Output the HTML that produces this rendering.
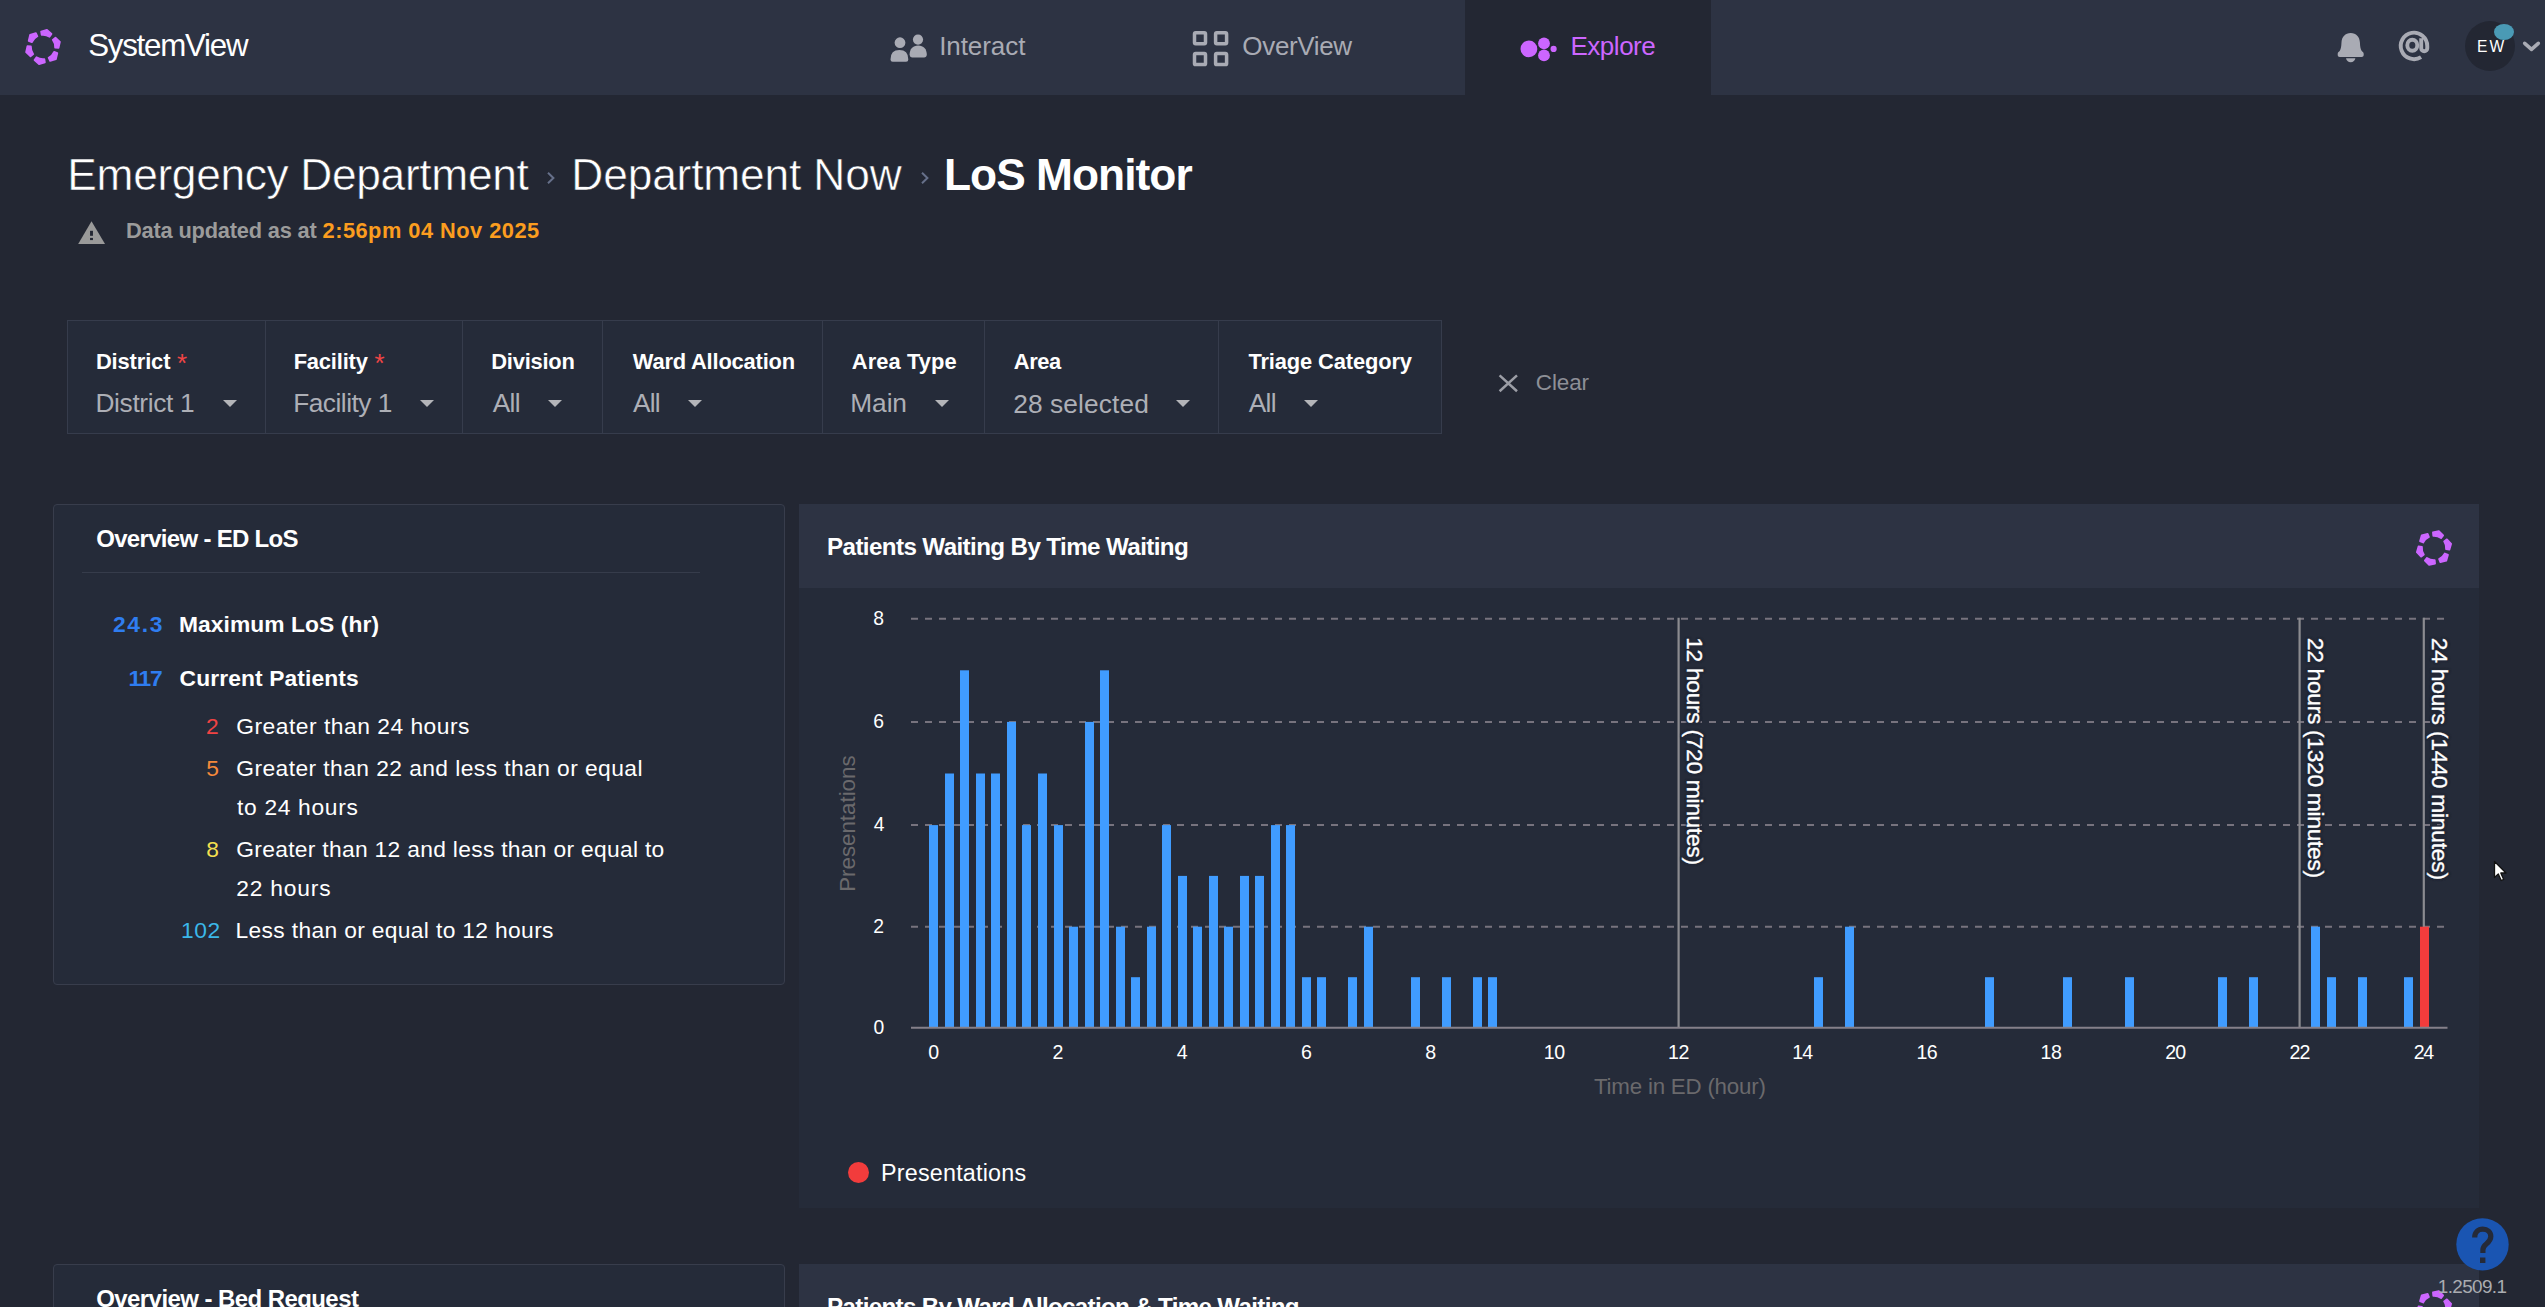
<!DOCTYPE html>
<html lang="en"><head><meta charset="utf-8"><title>SystemView - LoS Monitor</title>
<style>
html,body{margin:0;padding:0;background:#232733;}
body{width:2545px;height:1307px;overflow:hidden;position:relative;background:#232733;font-family:"Liberation Sans",sans-serif;}
.t{position:absolute;white-space:nowrap;font-family:"Liberation Sans",sans-serif;}
</style></head><body>
<header>
<div style="position:absolute;left:0px;top:0px;width:2545px;height:95px;background:#2d3343;"></div>
<div style="position:absolute;left:1465px;top:0px;width:246px;height:95px;background:#232733;"></div>
<svg style="position:absolute;left:22.5px;top:27.4px;overflow:visible" width="40" height="40" viewBox="-20 -20 40 40"><g fill="#cc66ff" stroke="#cc66ff" stroke-width="1.70" stroke-linejoin="round"><path d="M-1.90 -15.48L3.98 -17.25L8.50 -13.08L6.50 -10.21A12.10 12.10 0 0 0 -1.37 -12.02Z"/><path d="M12.46 -9.39L16.93 -5.17L15.58 0.82L12.09 0.53A12.10 12.10 0 0 0 9.73 -7.20Z"/><path d="M14.36 6.10L12.94 12.07L7.08 13.90L5.59 10.73A12.10 12.10 0 0 0 11.10 4.82Z"/><path d="M1.90 15.48L-3.98 17.25L-8.50 13.08L-6.50 10.21A12.10 12.10 0 0 0 1.37 12.02Z"/><path d="M-12.46 9.39L-16.93 5.17L-15.58 -0.82L-12.09 -0.53A12.10 12.10 0 0 0 -9.73 7.20Z"/><path d="M-14.36 -6.10L-12.94 -12.07L-7.08 -13.90L-5.59 -10.73A12.10 12.10 0 0 0 -11.10 -4.82Z"/></g></svg>
<div class="t " style="left:88.18px;top:30px;font-size:31.3px;line-height:31.3px;letter-spacing:-1.254px;color:#fff;">SystemView</div>
<svg style="position:absolute;left:888px;top:32px" width="42" height="34" viewBox="888 32 42 34"><g fill="#a9abb4">
<circle cx="918" cy="39.6" r="5.1"/><path d="M909.6 54.6c0-5.600 3.200-9.200 8.600-9.200s8.600 3.600 8.600 9.200c0 1.800-1.100 2.900-2.800 2.900h-11.600c-1.700 0-2.800-1.100-2.800-2.900z"/>
<circle cx="900" cy="42.700" r="6.200" stroke="#2d3343" stroke-width="1.600"/><path d="M889.700 59.400c0-6.100 3.700-10.100 9.700-10.100s9.700 4 9.700 10.100c0 2-1.200 3.200-3 3.200h-13.400c-1.800 0-3-1.200-3-3.200z" stroke="#2d3343" stroke-width="1.600"/>
</g></svg>
<div class="t " style="left:939.20px;top:33px;font-size:26px;line-height:26px;letter-spacing:-0.074px;color:#a9abb4;">Interact</div>
<svg style="position:absolute;left:1190px;top:28px" width="42" height="42" viewBox="1190 28 42 42"><g fill="none" stroke="#a9abb4" stroke-width="3.5"><rect x="1194.5" y="32.8" width="11" height="11" rx="1.2"/><rect x="1215.6" y="32.8" width="11" height="11" rx="1.2"/><rect x="1194.5" y="53.6" width="11" height="11" rx="1.2"/><rect x="1215.6" y="53.6" width="11" height="11" rx="1.2"/></g></svg>
<div class="t " style="left:1242.37px;top:33px;font-size:26px;line-height:26px;letter-spacing:-0.351px;color:#a9abb4;">OverView</div>
<svg style="position:absolute;left:1518px;top:34px" width="42" height="30" viewBox="1518 34 42 30"><g fill="#cc66ff">
<circle cx="1528.9" cy="48.9" r="8.4"/><circle cx="1544" cy="43.4" r="5.9"/><circle cx="1544" cy="55.4" r="5.9"/><circle cx="1553.6" cy="48.9" r="3.1"/></g></svg>
<div class="t " style="left:1570.47px;top:33px;font-size:26px;line-height:26px;letter-spacing:-0.478px;color:#cc66ff;">Explore</div>
<svg style="position:absolute;left:2334px;top:30px" width="34" height="36" viewBox="2334 30 34 36"><g fill="#a9abb4">
<path d="M2350.700 32.900c-5.500 0-8.900 3.900-9.200 9.400-.200 4.300-.600 6.900-1.700 8.500-.700 1-2.100 1.500-2.100 2.900v1.300c0 1.100.900 2 2 2h22c1.100 0 2-.900 2-2v-1.300c0-1.400-1.400-1.900-2.100-2.900-1.100-1.600-1.500-4.200-1.700-8.500-.300-5.500-3.700-9.400-9.200-9.400z"/>
<path d="M2346 58.300h9.400c-.3 2.300-2.200 4-4.700 4s-4.400-1.700-4.700-4z"/></g></svg>
<svg style="position:absolute;left:2396px;top:28px" width="36" height="36" viewBox="2396 28 36 36"><g fill="none" stroke="#a9abb4" stroke-width="3.900">
<path d="M2421.050 57.100A13.250 13.250 0 1 1 2427.250 45.900V48.200a3.020 3.020 0 0 1-6.040 0V38.300"/><ellipse cx="2412.300" cy="45.300" rx="5.000" ry="5.500"/></g></svg>
<div style="position:absolute;left:2465.3px;top:21.3px;width:50px;height:50px;background:#232733;border-radius:50%;"></div>
<div style="position:absolute;left:2493.7px;top:23.7px;width:20.4px;height:16.4px;background:#4a9ab5;border-radius:50%;"></div>
<div class="t " style="left:2477.02px;top:39px;font-size:15.6px;line-height:15.6px;letter-spacing:2.204px;color:#fff;">EW</div>
<svg style="position:absolute;left:2520px;top:38px" width="24" height="16" viewBox="2520 38 24 16"><path d="M2524.7 43.300l6.800 6 6.800-6" fill="none" stroke="#a9abb4" stroke-width="3.6" stroke-linecap="round" stroke-linejoin="round"/></svg>
</header>
<main>
<section class="page-title">
<div class="t " style="left:67.37px;top:153px;font-size:44.3px;line-height:44.3px;letter-spacing:-0.334px;color:#fff;-webkit-text-stroke:0.55px #232733;">Emergency Department</div>
<div class="t " style="left:571.37px;top:153px;font-size:44.3px;line-height:44.3px;letter-spacing:-0.158px;color:#fff;-webkit-text-stroke:0.55px #232733;">Department Now</div>
<div class="t " style="left:943.94px;top:153px;font-size:44.3px;line-height:44.3px;letter-spacing:-0.963px;color:#fff;font-weight:700;">LoS Monitor</div>
<svg style="position:absolute;left:545px;top:170px" width="12" height="16" viewBox="0 0 12 16"><path d="M3 2.800l5.400 5.200-5.400 5.200" fill="none" stroke="#66708a" stroke-width="2"/></svg>
<svg style="position:absolute;left:918.5px;top:170px" width="12" height="16" viewBox="0 0 12 16"><path d="M3 2.800l5.400 5.200-5.400 5.200" fill="none" stroke="#66708a" stroke-width="2"/></svg>
<svg style="position:absolute;left:76px;top:219px" width="32" height="28" viewBox="76 219 32 28"><path d="M91.500 221.300L105 243.900H78.200z" fill="#9a9a9a"/><rect x="90.050" y="230.800" width="2.900" height="5" fill="#232733"/><rect x="90.050" y="237.900" width="2.900" height="2.200" fill="#232733"/></svg>
<div class="t " style="left:126.04px;top:220px;font-size:21.8px;line-height:21.8px;letter-spacing:-0.182px;color:#9b9b9b;font-weight:700;">Data updated as at</div>
<div class="t " style="left:322.54px;top:220px;font-size:21.8px;line-height:21.8px;letter-spacing:0.484px;color:#fb9d1f;font-weight:700;">2:56pm 04 Nov 2025</div>
</section>
<section class="filters">
<div style="position:absolute;left:67px;top:320px;width:1375px;height:113.5px;background:#252b39;border:1px solid #363c4c;box-sizing:border-box;"></div>
<div style="position:absolute;left:265px;top:320px;width:1px;height:113.5px;background:#363c4c;"></div>
<div style="position:absolute;left:462px;top:320px;width:1px;height:113.5px;background:#363c4c;"></div>
<div style="position:absolute;left:602px;top:320px;width:1px;height:113.5px;background:#363c4c;"></div>
<div style="position:absolute;left:822px;top:320px;width:1px;height:113.5px;background:#363c4c;"></div>
<div style="position:absolute;left:984px;top:320px;width:1px;height:113.5px;background:#363c4c;"></div>
<div style="position:absolute;left:1218px;top:320px;width:1px;height:113.5px;background:#363c4c;"></div>
<div class="t " style="left:95.94px;top:351px;font-size:21.9px;line-height:21.9px;letter-spacing:-0.131px;color:#fff;font-weight:700;">District</div>
<div class="t " style="left:177.08px;top:350px;font-size:26px;line-height:26px;letter-spacing:0.000px;color:#f04545;">*</div>
<div class="t " style="left:95.44px;top:390px;font-size:26.3px;line-height:26.3px;letter-spacing:-0.338px;color:#adafb6;">District 1</div>
<svg style="position:absolute;left:223px;top:400px" width="14" height="7" viewBox="0 0 14 7"><path d="M0 0h14l-7 7z" fill="#b4b5b9"/></svg>
<div class="t " style="left:293.64px;top:351px;font-size:21.9px;line-height:21.9px;letter-spacing:-0.169px;color:#fff;font-weight:700;">Facility</div>
<div class="t " style="left:374.48px;top:350px;font-size:26px;line-height:26px;letter-spacing:0.000px;color:#f04545;">*</div>
<div class="t " style="left:293.14px;top:390px;font-size:26.3px;line-height:26.3px;letter-spacing:-0.502px;color:#adafb6;">Facility 1</div>
<svg style="position:absolute;left:420.1px;top:400px" width="14" height="7" viewBox="0 0 14 7"><path d="M0 0h14l-7 7z" fill="#b4b5b9"/></svg>
<div class="t " style="left:491.24px;top:351px;font-size:21.9px;line-height:21.9px;letter-spacing:-0.223px;color:#fff;font-weight:700;">Division</div>
<div class="t " style="left:492.85px;top:390px;font-size:26.3px;line-height:26.3px;letter-spacing:-0.759px;color:#adafb6;">All</div>
<svg style="position:absolute;left:548.1px;top:400px" width="14" height="7" viewBox="0 0 14 7"><path d="M0 0h14l-7 7z" fill="#b4b5b9"/></svg>
<div class="t " style="left:632.78px;top:351px;font-size:21.9px;line-height:21.9px;letter-spacing:-0.192px;color:#fff;font-weight:700;">Ward Allocation</div>
<div class="t " style="left:632.95px;top:390px;font-size:26.3px;line-height:26.3px;letter-spacing:-0.759px;color:#adafb6;">All</div>
<svg style="position:absolute;left:687.8px;top:400px" width="14" height="7" viewBox="0 0 14 7"><path d="M0 0h14l-7 7z" fill="#b4b5b9"/></svg>
<div class="t " style="left:851.75px;top:351px;font-size:21.9px;line-height:21.9px;letter-spacing:0.078px;color:#fff;font-weight:700;">Area Type</div>
<div class="t " style="left:850.34px;top:390px;font-size:26.3px;line-height:26.3px;letter-spacing:-0.113px;color:#adafb6;">Main</div>
<svg style="position:absolute;left:934.8px;top:400px" width="14" height="7" viewBox="0 0 14 7"><path d="M0 0h14l-7 7z" fill="#b4b5b9"/></svg>
<div class="t " style="left:1013.75px;top:351px;font-size:21.9px;line-height:21.9px;letter-spacing:-0.430px;color:#fff;font-weight:700;">Area</div>
<div class="t " style="left:1013.18px;top:391px;font-size:26.3px;line-height:26.3px;letter-spacing:0.110px;color:#adafb6;">28 selected</div>
<svg style="position:absolute;left:1176.2px;top:400px" width="14" height="7" viewBox="0 0 14 7"><path d="M0 0h14l-7 7z" fill="#b4b5b9"/></svg>
<div class="t " style="left:1248.45px;top:351px;font-size:21.9px;line-height:21.9px;letter-spacing:-0.133px;color:#fff;font-weight:700;">Triage Category</div>
<div class="t " style="left:1248.85px;top:390px;font-size:26.3px;line-height:26.3px;letter-spacing:-0.759px;color:#adafb6;">All</div>
<svg style="position:absolute;left:1303.6px;top:400px" width="14" height="7" viewBox="0 0 14 7"><path d="M0 0h14l-7 7z" fill="#b4b5b9"/></svg>
<svg style="position:absolute;left:1496px;top:372px" width="24" height="22" viewBox="1496 372 24 22"><path d="M1499.600 375.400l17.400 15.800M1517 375.400l-17.400 15.800" fill="none" stroke="#9c9ea6" stroke-width="2.500"/></svg>
<div class="t " style="left:1535.86px;top:372px;font-size:22.5px;line-height:22.5px;letter-spacing:-0.163px;color:#8d8f97;">Clear</div>
</section>
<section class="card overview-los">
<div style="position:absolute;left:53px;top:504px;width:732px;height:481px;background:#252b39;border:1px solid #383d4c;border-radius:4px;box-sizing:border-box;"></div>
<div class="t " style="left:96.22px;top:527px;font-size:24px;line-height:24px;letter-spacing:-0.692px;color:#fff;font-weight:700;">Overview - ED LoS</div>
<div style="position:absolute;left:82px;top:572px;width:618px;height:1px;background:#363c4b;"></div>
<div class="t " style="left:112.91px;top:613px;font-size:22.8px;line-height:22.8px;letter-spacing:1.713px;color:#2f7df0;font-weight:700;">24.3</div>
<div class="t " style="left:178.97px;top:613px;font-size:22.8px;line-height:22.8px;letter-spacing:0.079px;color:#fff;font-weight:700;">Maximum LoS (hr)</div>
<div class="t " style="left:128.42px;top:667px;font-size:22.8px;line-height:22.8px;letter-spacing:-1.300px;color:#2f7df0;font-weight:700;">117</div>
<div class="t " style="left:179.56px;top:667px;font-size:22.8px;line-height:22.8px;letter-spacing:0.120px;color:#fff;font-weight:700;">Current Patients</div>
<div class="t " style="left:206.05px;top:715px;font-size:22.8px;line-height:22.8px;letter-spacing:0.000px;color:#f04343;">2</div>
<div class="t " style="left:236.25px;top:715px;font-size:22.8px;line-height:22.8px;letter-spacing:0.510px;color:#fff;">Greater than 24 hours</div>
<div class="t " style="left:206.29px;top:757px;font-size:22.8px;line-height:22.8px;letter-spacing:0.000px;color:#f5893b;">5</div>
<div class="t " style="left:236.25px;top:757px;font-size:22.8px;line-height:22.8px;letter-spacing:0.429px;color:#fff;">Greater than 22 and less than or equal</div>
<div class="t " style="left:237.05px;top:796px;font-size:22.8px;line-height:22.8px;letter-spacing:0.669px;color:#fff;">to 24 hours</div>
<div class="t " style="left:206.21px;top:838px;font-size:22.8px;line-height:22.8px;letter-spacing:0.000px;color:#f3df4f;">8</div>
<div class="t " style="left:236.25px;top:838px;font-size:22.8px;line-height:22.8px;letter-spacing:0.309px;color:#fff;">Greater than 12 and less than or equal to</div>
<div class="t " style="left:236.25px;top:877px;font-size:22.8px;line-height:22.8px;letter-spacing:0.806px;color:#fff;">22 hours</div>
<div class="t " style="left:180.96px;top:919px;font-size:22.8px;line-height:22.8px;letter-spacing:0.571px;color:#3bb7e8;">102</div>
<div class="t " style="left:235.53px;top:919px;font-size:22.8px;line-height:22.8px;letter-spacing:0.344px;color:#fff;">Less than or equal to 12 hours</div>
</section>
<section class="card overview-bed">
<div style="position:absolute;left:53px;top:1264px;width:732px;height:120px;background:#252b39;border:1px solid #383d4c;border-radius:4px;box-sizing:border-box;"></div>
<div class="t " style="left:96.22px;top:1287px;font-size:24px;line-height:24px;letter-spacing:-0.575px;color:#fff;font-weight:700;">Overview - Bed Request</div>
</section>
<section class="chart-panel">
<div style="position:absolute;left:799px;top:504px;width:1680px;height:704px;background:#252b39;"></div>
<div style="position:absolute;left:799px;top:504px;width:1680px;height:84px;background:#2d3343;"></div>
<div class="t " style="left:827.08px;top:535px;font-size:24.2px;line-height:24.2px;letter-spacing:-0.617px;color:#fff;font-weight:700;">Patients Waiting By Time Waiting</div>
<svg style="position:absolute;left:2414.2px;top:527.6px;overflow:visible" width="40" height="40" viewBox="-20 -20 40 40"><g fill="#cc66ff" stroke="#cc66ff" stroke-width="1.70" stroke-linejoin="round"><path d="M-1.09 -15.56L4.88 -17.01L9.17 -12.62L7.03 -9.85A12.10 12.10 0 0 0 -0.74 -12.08Z"/><path d="M12.93 -8.72L17.17 -4.28L15.51 1.63L12.04 1.16A12.10 12.10 0 0 0 10.09 -6.68Z"/><path d="M14.02 6.84L12.30 12.73L6.35 14.25L5.02 11.01A12.10 12.10 0 0 0 10.83 5.40Z"/><path d="M1.09 15.56L-4.88 17.01L-9.17 12.62L-7.03 9.85A12.10 12.10 0 0 0 0.74 12.08Z"/><path d="M-12.93 8.72L-17.17 4.28L-15.51 -1.63L-12.04 -1.16A12.10 12.10 0 0 0 -10.09 6.68Z"/><path d="M-14.02 -6.84L-12.30 -12.73L-6.35 -14.25L-5.02 -11.01A12.10 12.10 0 0 0 -10.83 -5.40Z"/></g></svg>
<div style="position:absolute;left:799px;top:1264px;width:1680px;height:60px;background:#2d3343;"></div>
<div class="t " style="left:827.08px;top:1295px;font-size:24.2px;line-height:24.2px;letter-spacing:-0.691px;color:#fff;font-weight:700;">Patients By Ward Allocation &amp; Time Waiting</div>
<svg style="position:absolute;left:2414.2px;top:1287.6px;overflow:visible" width="40" height="40" viewBox="-20 -20 40 40"><g fill="#cc66ff" stroke="#cc66ff" stroke-width="1.70" stroke-linejoin="round"><path d="M-1.09 -15.56L4.88 -17.01L9.17 -12.62L7.03 -9.85A12.10 12.10 0 0 0 -0.74 -12.08Z"/><path d="M12.93 -8.72L17.17 -4.28L15.51 1.63L12.04 1.16A12.10 12.10 0 0 0 10.09 -6.68Z"/><path d="M14.02 6.84L12.30 12.73L6.35 14.25L5.02 11.01A12.10 12.10 0 0 0 10.83 5.40Z"/><path d="M1.09 15.56L-4.88 17.01L-9.17 12.62L-7.03 9.85A12.10 12.10 0 0 0 0.74 12.08Z"/><path d="M-12.93 8.72L-17.17 4.28L-15.51 -1.63L-12.04 -1.16A12.10 12.10 0 0 0 -10.09 6.68Z"/><path d="M-14.02 -6.84L-12.30 -12.73L-6.35 -14.25L-5.02 -11.01A12.10 12.10 0 0 0 -10.83 -5.40Z"/></g></svg>
<svg style="position:absolute;left:0;top:0" width="2545" height="1307" viewBox="0 0 2545 1307"><line x1="911" x2="2444" y1="926.7" y2="926.7" stroke="#77737e" stroke-width="2" stroke-dasharray="7 7"/><line x1="911" x2="2444" y1="825.1" y2="825.1" stroke="#77737e" stroke-width="2" stroke-dasharray="7 7"/><line x1="911" x2="2444" y1="721.9" y2="721.9" stroke="#77737e" stroke-width="2" stroke-dasharray="7 7"/><line x1="911" x2="2444" y1="618.7" y2="618.7" stroke="#77737e" stroke-width="2" stroke-dasharray="7 7"/><line x1="1678.6" x2="1678.6" y1="617.7" y2="1027.8" stroke="#8b8b90" stroke-width="2.200"/><line x1="2299.6" x2="2299.6" y1="617.7" y2="1027.8" stroke="#8b8b90" stroke-width="2.200"/><line x1="2423.8" x2="2423.8" y1="617.7" y2="1027.8" stroke="#8b8b90" stroke-width="2.200"/><rect x="929" y="825.1" width="9" height="202.7" fill="#409cff"/><rect x="945" y="773.5" width="9" height="254.3" fill="#409cff"/><rect x="960" y="670.3" width="9" height="357.5" fill="#409cff"/><rect x="976" y="773.5" width="9" height="254.3" fill="#409cff"/><rect x="991" y="773.5" width="9" height="254.3" fill="#409cff"/><rect x="1007" y="721.9" width="9" height="305.9" fill="#409cff"/><rect x="1022" y="825.1" width="9" height="202.7" fill="#409cff"/><rect x="1038" y="773.5" width="9" height="254.3" fill="#409cff"/><rect x="1054" y="825.1" width="9" height="202.7" fill="#409cff"/><rect x="1069" y="926.7" width="9" height="101.1" fill="#409cff"/><rect x="1085" y="721.9" width="9" height="305.9" fill="#409cff"/><rect x="1100" y="670.3" width="9" height="357.5" fill="#409cff"/><rect x="1116" y="926.7" width="9" height="101.1" fill="#409cff"/><rect x="1131" y="977.2" width="9" height="50.5" fill="#409cff"/><rect x="1147" y="926.7" width="9" height="101.1" fill="#409cff"/><rect x="1162" y="825.1" width="9" height="202.7" fill="#409cff"/><rect x="1178" y="875.9" width="9" height="151.9" fill="#409cff"/><rect x="1193" y="926.7" width="9" height="101.1" fill="#409cff"/><rect x="1209" y="875.9" width="9" height="151.9" fill="#409cff"/><rect x="1224" y="926.7" width="9" height="101.1" fill="#409cff"/><rect x="1240" y="875.9" width="9" height="151.9" fill="#409cff"/><rect x="1255" y="875.9" width="9" height="151.9" fill="#409cff"/><rect x="1271" y="825.1" width="9" height="202.7" fill="#409cff"/><rect x="1286" y="825.1" width="9" height="202.7" fill="#409cff"/><rect x="1302" y="977.2" width="9" height="50.5" fill="#409cff"/><rect x="1317" y="977.2" width="9" height="50.5" fill="#409cff"/><rect x="1348" y="977.2" width="9" height="50.5" fill="#409cff"/><rect x="1364" y="926.7" width="9" height="101.1" fill="#409cff"/><rect x="1411" y="977.2" width="9" height="50.5" fill="#409cff"/><rect x="1442" y="977.2" width="9" height="50.5" fill="#409cff"/><rect x="1473" y="977.2" width="9" height="50.5" fill="#409cff"/><rect x="1488" y="977.2" width="9" height="50.5" fill="#409cff"/><rect x="1814" y="977.2" width="9" height="50.5" fill="#409cff"/><rect x="1845" y="926.7" width="9" height="101.1" fill="#409cff"/><rect x="1985" y="977.2" width="9" height="50.5" fill="#409cff"/><rect x="2063" y="977.2" width="9" height="50.5" fill="#409cff"/><rect x="2125" y="977.2" width="9" height="50.5" fill="#409cff"/><rect x="2218" y="977.2" width="9" height="50.5" fill="#409cff"/><rect x="2249" y="977.2" width="9" height="50.5" fill="#409cff"/><rect x="2311" y="926.7" width="9" height="101.1" fill="#409cff"/><rect x="2327" y="977.2" width="9" height="50.5" fill="#409cff"/><rect x="2358" y="977.2" width="9" height="50.5" fill="#409cff"/><rect x="2404" y="977.2" width="9" height="50.5" fill="#409cff"/><rect x="2420" y="926.7" width="9" height="101.1" fill="#f23c3c"/><line x1="911" x2="2447.500" y1="1027.8" y2="1027.8" stroke="#85808a" stroke-width="2"/></svg>
<div class="t " style="left:873.45px;top:1018px;font-size:19.3px;line-height:19.3px;letter-spacing:0.000px;color:#fff;">0</div>
<div class="t " style="left:873.23px;top:917px;font-size:19.3px;line-height:19.3px;letter-spacing:0.000px;color:#fff;">2</div>
<div class="t " style="left:873.76px;top:815px;font-size:19.3px;line-height:19.3px;letter-spacing:0.000px;color:#fff;">4</div>
<div class="t " style="left:873.22px;top:712px;font-size:19.3px;line-height:19.3px;letter-spacing:0.000px;color:#fff;">6</div>
<div class="t " style="left:873.36px;top:609px;font-size:19.3px;line-height:19.3px;letter-spacing:0.000px;color:#fff;">8</div>
<div class="t " style="left:928.35px;top:1043px;font-size:19.6px;line-height:19.6px;letter-spacing:0.000px;color:#fff;">0</div>
<div class="t " style="left:1052.55px;top:1043px;font-size:19.6px;line-height:19.6px;letter-spacing:0.000px;color:#fff;">2</div>
<div class="t " style="left:1176.81px;top:1043px;font-size:19.6px;line-height:19.6px;letter-spacing:0.000px;color:#fff;">4</div>
<div class="t " style="left:1300.88px;top:1043px;font-size:19.6px;line-height:19.6px;letter-spacing:0.000px;color:#fff;">6</div>
<div class="t " style="left:1425.15px;top:1043px;font-size:19.6px;line-height:19.6px;letter-spacing:0.000px;color:#fff;">8</div>
<div class="t " style="left:1543.81px;top:1043px;font-size:19.6px;line-height:19.6px;letter-spacing:-0.543px;color:#fff;">10</div>
<div class="t " style="left:1668.01px;top:1043px;font-size:19.6px;line-height:19.6px;letter-spacing:-0.322px;color:#fff;">12</div>
<div class="t " style="left:1792.21px;top:1043px;font-size:19.6px;line-height:19.6px;letter-spacing:-0.734px;color:#fff;">14</div>
<div class="t " style="left:1916.41px;top:1043px;font-size:19.6px;line-height:19.6px;letter-spacing:-0.447px;color:#fff;">16</div>
<div class="t " style="left:2040.61px;top:1043px;font-size:19.6px;line-height:19.6px;letter-spacing:-0.456px;color:#fff;">18</div>
<div class="t " style="left:2165.31px;top:1043px;font-size:19.6px;line-height:19.6px;letter-spacing:-1.050px;color:#fff;">20</div>
<div class="t " style="left:2289.51px;top:1043px;font-size:19.6px;line-height:19.6px;letter-spacing:-0.830px;color:#fff;">22</div>
<div class="t " style="left:2413.71px;top:1043px;font-size:19.6px;line-height:19.6px;letter-spacing:-1.241px;color:#fff;">24</div>
<div class="t " style="left:1594.00px;top:1076px;font-size:22.3px;line-height:22.3px;letter-spacing:-0.203px;color:#6a696c;">Time in ED (hour)</div>
<div class="t" style="left:1694.60px;top:638.60px;font-size:22.8px;line-height:0;letter-spacing:-0.319px;color:#fff;transform-origin:0 0;transform:rotate(90deg) translate(-1.74px,0);text-shadow:0 0 2px #252b39,0 0 2px #252b39,0 0 3px #252b39,1.5px 1.5px 1px #252b39,-1.5px -1.5px 1px #252b39,1.5px -1.5px 1px #252b39,-1.5px 1.5px 1px #252b39;-webkit-text-stroke:0.35px #fff;">12 hours (720 minutes)</div>
<div class="t" style="left:2316.00px;top:638.60px;font-size:22.8px;line-height:0;letter-spacing:-0.313px;color:#fff;transform-origin:0 0;transform:rotate(90deg) translate(-1.15px,0);text-shadow:0 0 2px #252b39,0 0 2px #252b39,0 0 3px #252b39,1.5px 1.5px 1px #252b39,-1.5px -1.5px 1px #252b39,1.5px -1.5px 1px #252b39,-1.5px 1.5px 1px #252b39;-webkit-text-stroke:0.35px #fff;">22 hours (1320 minutes)</div>
<div class="t" style="left:2440.20px;top:638.60px;font-size:22.8px;line-height:0;letter-spacing:-0.222px;color:#fff;transform-origin:0 0;transform:rotate(90deg) translate(-1.15px,0);text-shadow:0 0 2px #252b39,0 0 2px #252b39,0 0 3px #252b39,1.5px 1.5px 1px #252b39,-1.5px -1.5px 1px #252b39,1.5px -1.5px 1px #252b39,-1.5px 1.5px 1px #252b39;-webkit-text-stroke:0.35px #fff;">24 hours (1440 minutes)</div>
<div class="t" style="left:847.70px;top:889.80px;font-size:22.3px;line-height:0;letter-spacing:0.006px;color:#6a696c;transform-origin:0 0;transform:rotate(-90deg) translate(-1.83px,0);">Presentations</div>
<div style="position:absolute;left:848px;top:1162px;width:21.4px;height:21.4px;background:#f23c3c;border-radius:50%;"></div>
<div class="t " style="left:881.09px;top:1162px;font-size:23.3px;line-height:23.3px;letter-spacing:0.215px;color:#fff;">Presentations</div>
</section>
</main>
<aside class="help">
<svg style="position:absolute;left:2454px;top:1216px" width="58" height="58" viewBox="2454 1216 58 58"><circle cx="2482.500" cy="1244.400" r="26.200" fill="#1a55b2"/>
<path d="M2474.700 1237.400c0-4.900 3.400-8.200 8.100-8.200s8 3.100 8 7.300c0 3.600-1.900 5.400-4.500 7.500-2.400 1.900-3.400 3.300-3.400 6v2.900" fill="none" stroke="#252a38" stroke-width="5.200"/><rect x="2480" y="1257.500" width="5.400" height="5.500" fill="#252a38"/></svg>
<div class="t " style="left:2437.86px;top:1278px;font-size:18.9px;line-height:18.9px;letter-spacing:-0.630px;color:#aaacb1;">1.2509.1</div>
<svg style="position:absolute;left:2492px;top:859px" width="18" height="24" viewBox="0 0 18 24"><path d="M2.500 2.500v16l3.800-3.600 2.900 6.600 2.500-1.100-2.900-6.400h5.200z" fill="#fff" stroke="#111" stroke-width="1.300" stroke-linejoin="round"/></svg>
</aside>
</body></html>
